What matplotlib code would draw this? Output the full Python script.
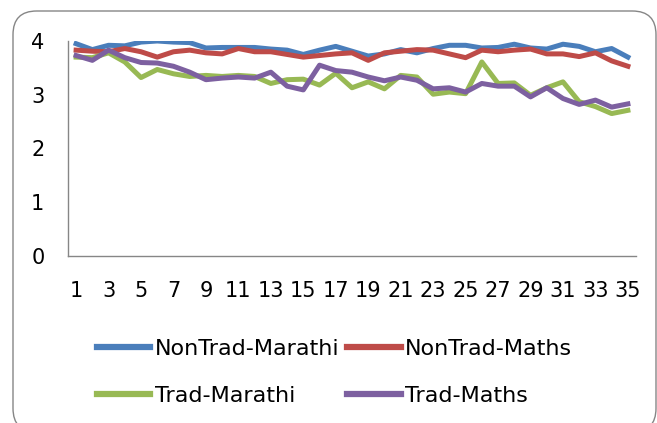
import numpy as np
import matplotlib
matplotlib.use("Agg")
import matplotlib.pyplot as plt
from matplotlib.patches import FancyBboxPatch

# Values
days = list(range(1, 36))
nontrad_marathi = [3.95, 3.84, 3.92, 3.91, 3.98, 4.00, 3.98, 3.97, 3.87, 3.88,
                   3.88, 3.88, 3.85, 3.83, 3.75, 3.83, 3.90, 3.81, 3.72, 3.76,
                   3.84, 3.78, 3.86, 3.92, 3.92, 3.87, 3.88, 3.94, 3.87, 3.85,
                   3.94, 3.90, 3.80, 3.86, 3.70]
nontrad_maths = [3.83, 3.81, 3.80, 3.86, 3.80, 3.70, 3.80, 3.83, 3.78, 3.76,
                 3.86, 3.80, 3.80, 3.75, 3.70, 3.73, 3.76, 3.78, 3.64, 3.78,
                 3.81, 3.84, 3.83, 3.76, 3.69, 3.83, 3.80, 3.83, 3.85, 3.76,
                 3.76, 3.71, 3.78, 3.63, 3.53]
trad_marathi = [3.70, 3.69, 3.78, 3.61, 3.32, 3.47, 3.39, 3.34, 3.36, 3.34,
                3.36, 3.34, 3.21, 3.28, 3.29, 3.18, 3.40, 3.13, 3.24, 3.11,
                3.36, 3.33, 3.01, 3.05, 3.02, 3.61, 3.21, 3.22, 2.99, 3.13,
                3.24, 2.87, 2.78, 2.65, 2.71]
trad_maths = [3.73, 3.64, 3.83, 3.69, 3.60, 3.59, 3.53, 3.42, 3.28, 3.31,
              3.33, 3.31, 3.42, 3.16, 3.09, 3.55, 3.45, 3.42, 3.33, 3.26,
              3.33, 3.27, 3.11, 3.13, 3.05, 3.21, 3.16, 3.16, 2.96, 3.13,
              2.93, 2.82, 2.90, 2.77, 2.83]

plt.rcParams['font.family'] = ['DejaVu Sans']

W, H = 657, 423
fig = plt.figure(figsize=(W / 100, H / 100), dpi=100)

# rounded chart border (outline only); bottom side runs off the canvas
bx0, by0, bx1, by1 = 13, 11, 656, 432
border = FancyBboxPatch((bx0 / W, 1 - by1 / H), (bx1 - bx0) / W, (by1 - by0) / H,
                        boxstyle="round,pad=0,rounding_size=0.036",
                        mutation_aspect=W / H,
                        transform=fig.transFigure, facecolor="none",
                        edgecolor="#868686", linewidth=1.0)
fig.patches.append(border)

ax = fig.add_axes([68 / W, 1 - 256 / H, (636 - 68) / W, (256 - 41) / H])
ax.set_facecolor("none")

lw = 3.6
l1, = ax.plot(days, nontrad_marathi, color="#4a7ebb", lw=lw, label="NonTrad-Marathi")
l2, = ax.plot(days, nontrad_maths, color="#be4b48", lw=lw, label="NonTrad-Maths")
l3, = ax.plot(days, trad_marathi, color="#98b954", lw=lw, label="Trad-Marathi")
l4, = ax.plot(days, trad_maths, color="#7d60a0", lw=lw, label="Trad-Maths")

ax.set_xlim(0.5, 35.5)
ax.set_ylim(0, 4)
ax.set_yticks([0, 1, 2, 3, 4])
ax.set_xticks(days[::2])
ax.tick_params(length=0, labelsize=15)
ax.tick_params(axis="x", pad=18)
ax.tick_params(axis="y", pad=17)
for s in ["top", "right"]:
    ax.spines[s].set_visible(False)
for s in ["left", "bottom"]:
    ax.spines[s].set_color("#868686")
    ax.spines[s].set_linewidth(1.0)

leg = fig.legend([l1, l3, l2, l4],
                 ["NonTrad-Marathi", "Trad-Marathi", "NonTrad-Maths", "Trad-Maths"],
                 ncol=2, loc="upper left", bbox_to_anchor=(88 / W, 1 - 330 / H),
                 frameon=False, fontsize=16, handlelength=2.4, handletextpad=0.2,
                 columnspacing=0.36, labelspacing=1.2, borderaxespad=0)
for h in leg.legend_handles:
    h.set_linewidth(4.5)

fig.savefig("out.png", dpi=100)
